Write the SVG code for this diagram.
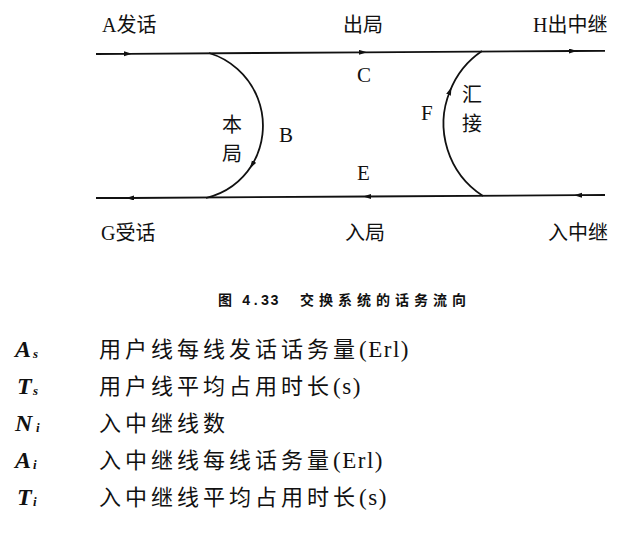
<svg xmlns="http://www.w3.org/2000/svg" width="643" height="534" viewBox="0 0 643 534">
<style>
.lbl{font-family:"Liberation Serif","Noto Sans CJK SC",serif;font-size:20px;fill:#111}
.let{font-family:"Liberation Serif",serif;font-size:21px;fill:#111}
.cap{font-family:"Noto Sans CJK SC",sans-serif;font-size:14px;font-weight:bold;fill:#111}
.sym{font-family:"Liberation Serif",serif;font-size:24px;font-style:italic;font-weight:bold;fill:#111}
.sub{font-family:"Liberation Serif",serif;font-size:13px;font-style:italic;font-weight:bold;fill:#111}
.leg{font-family:"Liberation Serif","Noto Sans CJK SC",serif;font-size:22px;fill:#111;letter-spacing:4px}
.lat{letter-spacing:1.5px;font-size:23px}
.ln{fill:none;stroke:#111;stroke-width:1.8;marker-mid:url(#ah)}
</style>
<defs>
<marker id="ah" markerUnits="userSpaceOnUse" markerWidth="8" markerHeight="6" refX="4" refY="2.5" orient="auto">
<path d="M0,0 L8,2.5 L0,5 z" fill="#111"/>
</marker>
</defs>
<rect width="643" height="534" fill="#fff"/>
<g id="connectors">
<polyline class="ln" points="96,54 128,53.8 363,52.3 573,51 605,50.8"/>
<polyline class="ln" points="605,195 578,195.2 367,196.5 130,198 96,198"/>
<path class="ln" d="M209,53 A76,76 0 0 1 252,165 A76,76 0 0 1 206,198"/>
<path class="ln" d="M483,196 A86,86 0 0 1 450,91 A86,86 0 0 1 482,51"/>
</g>
<g id="A"><text class="lbl" x="102" y="32">A发话</text></g>
<g id="out"><text class="lbl" x="343" y="32">出局</text></g>
<g id="H"><text class="lbl" x="533" y="32">H出中继</text></g>
<g id="G"><text class="lbl" x="101" y="240">G受话</text></g>
<g id="in"><text class="lbl" x="345" y="240">入局</text></g>
<g id="inTrunk"><text class="lbl" x="548" y="240">入中继</text></g>
<g id="C"><text class="let" x="357" y="82">C</text></g>
<g id="B"><text class="let" x="279" y="142">B</text></g>
<g id="E"><text class="let" x="357" y="180">E</text></g>
<g id="F"><text class="let" x="421" y="120">F</text></g>
<g id="local"><text class="lbl" x="222" y="132">本</text><text class="lbl" x="222" y="161">局</text></g>
<g id="tandem"><text class="lbl" x="462" y="102">汇</text><text class="lbl" x="462" y="131">接</text></g>
<g id="caption"><text class="cap" y="305"><tspan x="218">图</tspan><tspan x="242" font-family="Liberation Mono,monospace" letter-spacing="1">4.33</tspan><tspan x="300" letter-spacing="5">交换系统的话务流向</tspan></text></g>
<g id="legend">
<text class="sym" x="15" y="357">A</text><text class="sub" x="33" y="358">s</text>
<text class="leg" x="99" y="357">用户线每线发话话务量<tspan class="lat">(Erl)</tspan></text>
<text class="sym" x="17" y="394">T</text><text class="sub" x="33" y="395">s</text>
<text class="leg" x="99" y="394">用户线平均占用时长<tspan class="lat">(s)</tspan></text>
<text class="sym" x="15" y="431">N</text><text class="sub" x="36" y="432">i</text>
<text class="leg" x="99" y="431">入中继线数</text>
<text class="sym" x="15" y="468">A</text><text class="sub" x="33" y="469">i</text>
<text class="leg" x="99" y="468">入中继线每线话务量<tspan class="lat">(Erl)</tspan></text>
<text class="sym" x="17" y="505">T</text><text class="sub" x="33" y="506">i</text>
<text class="leg" x="99" y="505">入中继线平均占用时长<tspan class="lat">(s)</tspan></text>
</g>
</svg>
